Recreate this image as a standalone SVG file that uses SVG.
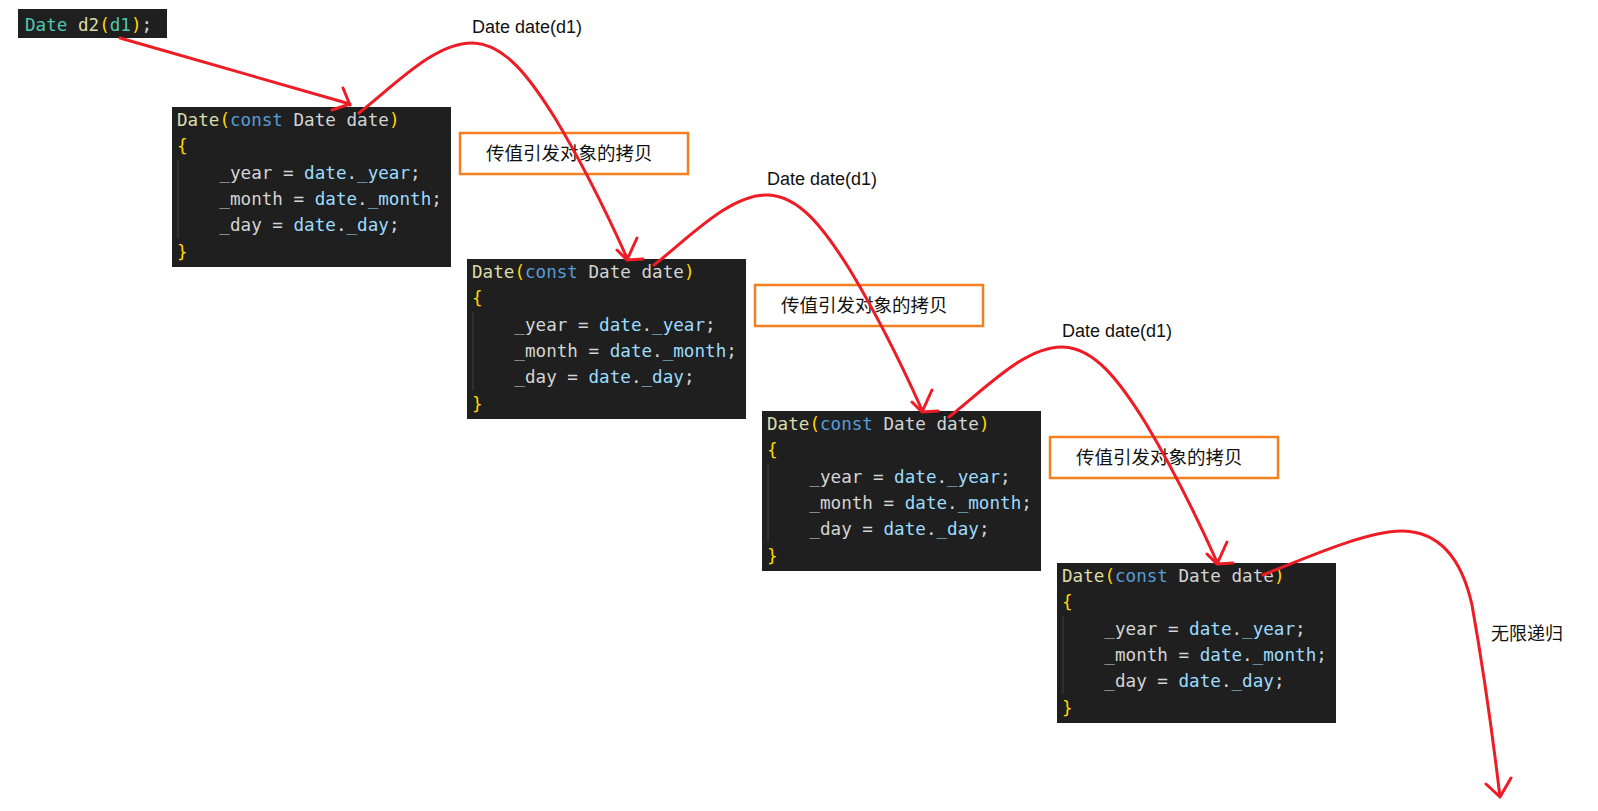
<svg xmlns="http://www.w3.org/2000/svg" width="1598" height="811" viewBox="0 0 1598 811">
<style>
.bg{fill:#1f1f1f}
.code{font-family:"DejaVu Sans Mono","Liberation Mono",monospace;font-size:17.6px;fill:#d4d4d4}
.fn{fill:#dcdcaa}
.br{fill:#ffd700}
.kw{fill:#569cd6}
.ty{fill:#4ec9b0}
.v{fill:#9cdcfe}
.guide{stroke:#404040;stroke-width:1}
.obox{fill:#fff;stroke:#f47f20;stroke-width:2.5}
.cn{font-family:"Noto Sans CJK SC","Noto Sans",sans-serif;font-size:18.5px;fill:#111}
.lbl{font-family:"Liberation Sans","Noto Sans",sans-serif;font-size:18px;fill:#111}
.red{fill:none;stroke:#ee1c25;stroke-width:3;stroke-linecap:round;stroke-linejoin:round}
</style>
<rect width="1598" height="811" fill="#fff"/>
<g id="call">
<rect class="bg" x="18" y="9" width="149" height="29"/>
<text class="code" x="25" y="31" xml:space="preserve"><tspan class="ty">Date</tspan> <tspan class="fn">d2</tspan><tspan class="br">(</tspan><tspan class="ty">d1</tspan><tspan class="br">)</tspan>;</text>
</g>
<g id="code1" transform="translate(172,107)">
<rect class="bg" x="0" y="0" width="279" height="160"/>
<line class="guide" x1="6" y1="53" x2="6" y2="131"/>
<text class="code" xml:space="preserve"><tspan x="5" y="19"><tspan class="fn">Date</tspan><tspan class="br">(</tspan><tspan class="kw">const</tspan> Date date<tspan class="br">)</tspan></tspan><tspan x="5" y="45.3" class="br">{</tspan><tspan x="5" y="71.6">    _year = <tspan class="v">date</tspan>.<tspan class="v">_year</tspan>;</tspan><tspan x="5" y="97.9">    _month = <tspan class="v">date</tspan>.<tspan class="v">_month</tspan>;</tspan><tspan x="5" y="124.2">    _day = <tspan class="v">date</tspan>.<tspan class="v">_day</tspan>;</tspan><tspan x="5" y="150.5" class="br">}</tspan></text>
</g>
<g id="code2" transform="translate(467,259)">
<rect class="bg" x="0" y="0" width="279" height="160"/>
<line class="guide" x1="6" y1="53" x2="6" y2="131"/>
<text class="code" xml:space="preserve"><tspan x="5" y="19"><tspan class="fn">Date</tspan><tspan class="br">(</tspan><tspan class="kw">const</tspan> Date date<tspan class="br">)</tspan></tspan><tspan x="5" y="45.3" class="br">{</tspan><tspan x="5" y="71.6">    _year = <tspan class="v">date</tspan>.<tspan class="v">_year</tspan>;</tspan><tspan x="5" y="97.9">    _month = <tspan class="v">date</tspan>.<tspan class="v">_month</tspan>;</tspan><tspan x="5" y="124.2">    _day = <tspan class="v">date</tspan>.<tspan class="v">_day</tspan>;</tspan><tspan x="5" y="150.5" class="br">}</tspan></text>
</g>
<g id="code3" transform="translate(762,411)">
<rect class="bg" x="0" y="0" width="279" height="160"/>
<line class="guide" x1="6" y1="53" x2="6" y2="131"/>
<text class="code" xml:space="preserve"><tspan x="5" y="19"><tspan class="fn">Date</tspan><tspan class="br">(</tspan><tspan class="kw">const</tspan> Date date<tspan class="br">)</tspan></tspan><tspan x="5" y="45.3" class="br">{</tspan><tspan x="5" y="71.6">    _year = <tspan class="v">date</tspan>.<tspan class="v">_year</tspan>;</tspan><tspan x="5" y="97.9">    _month = <tspan class="v">date</tspan>.<tspan class="v">_month</tspan>;</tspan><tspan x="5" y="124.2">    _day = <tspan class="v">date</tspan>.<tspan class="v">_day</tspan>;</tspan><tspan x="5" y="150.5" class="br">}</tspan></text>
</g>
<g id="code4" transform="translate(1057,563)">
<rect class="bg" x="0" y="0" width="279" height="160"/>
<line class="guide" x1="6" y1="53" x2="6" y2="131"/>
<text class="code" xml:space="preserve"><tspan x="5" y="19"><tspan class="fn">Date</tspan><tspan class="br">(</tspan><tspan class="kw">const</tspan> Date date<tspan class="br">)</tspan></tspan><tspan x="5" y="45.3" class="br">{</tspan><tspan x="5" y="71.6">    _year = <tspan class="v">date</tspan>.<tspan class="v">_year</tspan>;</tspan><tspan x="5" y="97.9">    _month = <tspan class="v">date</tspan>.<tspan class="v">_month</tspan>;</tspan><tspan x="5" y="124.2">    _day = <tspan class="v">date</tspan>.<tspan class="v">_day</tspan>;</tspan><tspan x="5" y="150.5" class="br">}</tspan></text>
</g>
<g id="note1" transform="translate(460,133)">
<rect class="obox" x="0" y="0" width="228" height="41"/>
<text class="cn" x="26" y="27">传值引发对象的拷贝</text>
</g>
<g id="note2" transform="translate(755,285)">
<rect class="obox" x="0" y="0" width="228" height="41"/>
<text class="cn" x="26" y="27">传值引发对象的拷贝</text>
</g>
<g id="note3" transform="translate(1050,437)">
<rect class="obox" x="0" y="0" width="228" height="41"/>
<text class="cn" x="26" y="27">传值引发对象的拷贝</text>
</g>
<g id="label1"><text class="lbl" x="472" y="33">Date date(d1)</text></g>
<g id="label2"><text class="lbl" x="767" y="185">Date date(d1)</text></g>
<g id="label3"><text class="lbl" x="1062" y="337">Date date(d1)</text></g>
<g id="label4"><text class="cn" x="1491" y="640" style="font-size:18px">无限递归</text></g>
<g id="connectors">
<path class="red" d="M120,38 L350,104 M343,88 L350,105 M332,110 L350,104"/>
<path class="red" d="M359,113 C395,85 435,42 473,43 C505,44 530,78 555,118 C585,168 610,220 627,258 M617,250 L627,260 L637,238 M627,260 L643,259"/>
<path class="red" transform="translate(295,152)" d="M359,113 C395,85 435,42 473,43 C505,44 530,78 555,118 C585,168 610,220 627,258 M617,250 L627,260 L637,238 M627,260 L643,259"/>
<path class="red" transform="translate(590,304)" d="M359,113 C395,85 435,42 473,43 C505,44 530,78 555,118 C585,168 610,220 627,258 M617,250 L627,260 L637,238 M627,260 L643,259"/>
<path class="red" d="M1263,575 C1310,556 1370,530 1403,531 C1440,532 1462,560 1472,605 C1480,650 1492,730 1500,797 M1486,784 L1500,797 L1511,778"/>
</g>
</svg>
